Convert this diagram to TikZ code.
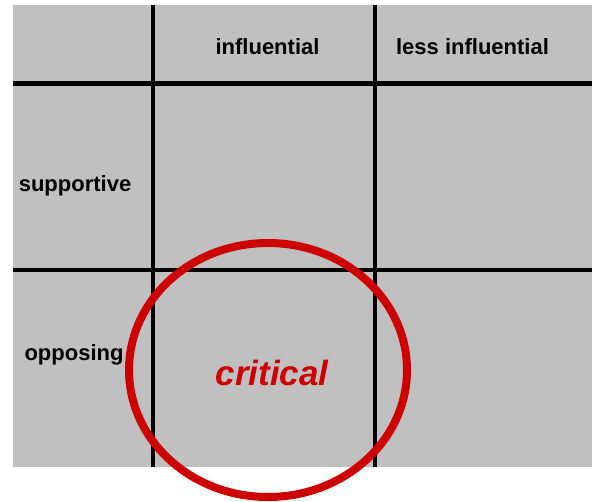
\documentclass[tikz,border=0pt]{standalone}
\usepackage{fontspec}
\setmainfont{Liberation Sans}
\definecolor{panel}{RGB}{192,192,192}
\definecolor{alert}{RGB}{204,0,0}
\begin{document}
\begin{tikzpicture}[x=1pt,y=-1pt,
  gridline/.style={line width=4.5pt,black},
  header/.style={font=\bfseries\fontsize{22}{26}\selectfont,inner sep=0pt,anchor=base},
  ring/.style={draw=alert,line width=8pt},
  verdict/.style={font=\bfseries\itshape\fontsize{35}{40}\selectfont,text=alert,inner sep=0pt,anchor=base}]
\useasboundingbox (0,0) rectangle (592,501);
% background panel
\fill[panel] (13,5) rectangle (592,467);
% grid
\draw[gridline] (153,5) -- (153,467);
\draw[gridline] (375,5) -- (375,467);
\draw[gridline] (13,83.5) -- (592,83.5);
\draw[gridline] (13,270) -- (592,270);
% column and row headings
\node[header] (colA) at (267.5,54) {influential};
\node[header] (colB) at (472.5,54) {less influential};
\node[header] (rowA) at (75,191) {supportive};
\node[header] (rowB) at (74,360) {opposing};
% highlighted cell
\draw[ring] (268,370) ellipse [x radius=139,y radius=127];
\node[verdict] (crit) at (272,385) {critical};
\end{tikzpicture}
\end{document}
